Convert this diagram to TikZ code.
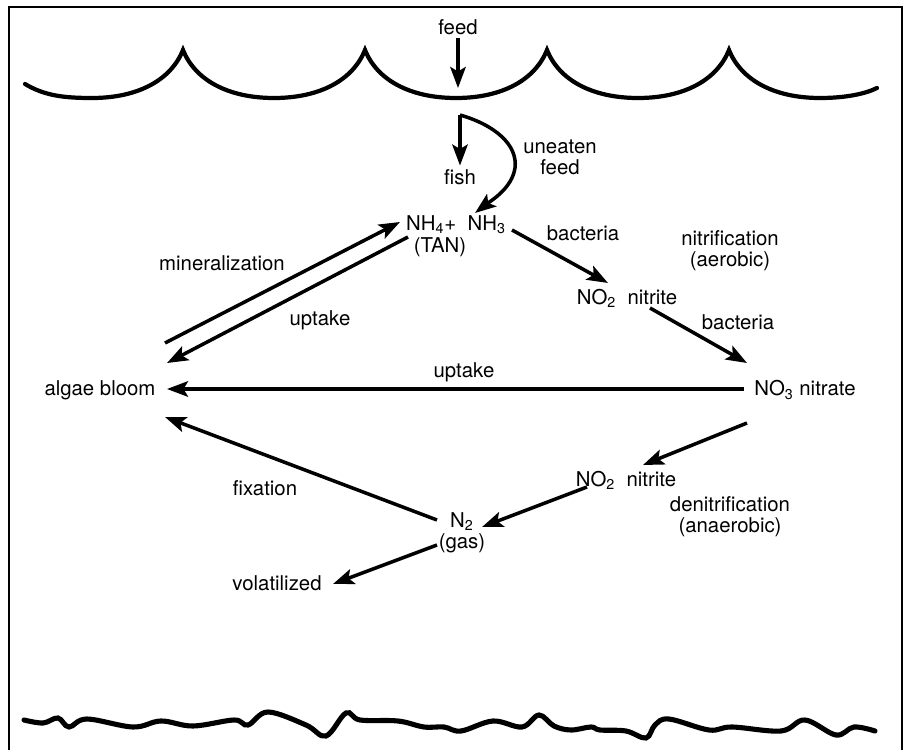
\documentclass[tikz,border=0pt]{standalone}
\usepackage{fontspec}
\setmainfont{TeX Gyre Heros}
\usetikzlibrary{arrows.meta}

\tikzset{
  lbl/.style={inner sep=2pt, align=center, font=\fontsize{11.6}{12}\selectfont},
  arr/.style={line width=2pt, -{Stealth[length=0.42cm,width=0.31cm,inset=0.09cm]}},
  wave/.style={line width=2.4pt, line cap=round},
}

\begin{document}
\begin{tikzpicture}[x=0.02cm, y=-0.02cm]
\useasboundingbox (0,0) rectangle (904,750);

% frame, open at the bottom
\draw[line width=1.6pt] (9,750) -- (9,7) -- (902,7) -- (902,750);

% water surface
\draw[wave] (25,84) .. controls (45,96) and (65,98) .. (92,98)
  \foreach \c in {183,365,547,729} {
    .. controls ({\c-45},98) and ({\c-12},80) .. (\c,50)
    .. controls ({\c+12},80) and ({\c+45},98) .. ({\c+91},98)}
  .. controls (845,98) and (865,94) .. (877,88);

% pond bottom
\draw[line width=2.9pt, line cap=round] plot[smooth, tension=0.6] coordinates {
  (24,720) (43,723) (58,718) (69,727) (87,719) (133,727) (161,721) (193,726)
  (234,720) (248,725) (268,712) (306,725) (326,736) (346,713) (360,720)
  (398,721) (424,727) (444,727) (461,731) (493,721) (522,727) (539,715)
  (554,726) (571,730) (591,727) (600,730) (626,731) (646,738) (655,725)
  (669,719) (709,730) (732,727) (781,731) (805,720) (836,735) (854,727) (875,731)};

% texts
\node[lbl] (feed) at (458,27) {feed};
\node[lbl] (fish) at (460,177) {fish};
\node[lbl] (uneaten) at (560,157) {uneaten\\feed};
\node[lbl] (tan) at (456,225) {NH\textsubscript{4}+\ \ NH\textsubscript{3}};
\node[lbl] (tanlbl) at (440,247) {(TAN)};
\node[lbl] (mineral) at (222,263) {mineralization};
\node[lbl] (uptakea) at (320,320) {uptake};
\node[lbl] (bacta) at (583,233) {bacteria};
\node[lbl] (nitrif) at (730,251) {nitrification\\(aerobic)};
\node[lbl] (nitritea) at (627,298) {NO\textsubscript{2}\ \ nitrite};
\node[lbl] (bactb) at (738,322) {bacteria};
\node[lbl] (algae) at (100,390) {algae bloom};
\node[lbl] (uptakeb) at (464,372) {uptake};
\node[lbl] (nitrate) at (805,390) {NO\textsubscript{3} nitrate};
\node[lbl] (nitriteb) at (626,480) {NO\textsubscript{2}\ \ nitrite};
\node[lbl] (denitrif) at (730,517) {denitrification\\(anaerobic)};
\node[lbl] (ntwo) at (462,533) {N\textsubscript{2}\\(gas)};
\node[lbl] (fixation) at (265,488) {fixation};
\node[lbl] (volat) at (277,583) {volatilized};

% arrow ends
\coordinate (surface) at (458,88);
\coordinate (split) at (460,115);
\coordinate (tan-in) at (475,213);
\coordinate (min-a) at (165,343);
\coordinate (min-b) at (400,222);
\coordinate (up-a) at (408,237);
\coordinate (up-b) at (167,363);
\coordinate (bac-a) at (512,230);
\coordinate (bac-b) at (608,283);
\coordinate (bac-c) at (650,308);
\coordinate (bac-d) at (747,363);
\coordinate (upl-a) at (744,389);
\coordinate (upl-b) at (167,389);
\coordinate (den-a) at (747,423);
\coordinate (den-b) at (643,465);
\coordinate (den-c) at (587,487);
\coordinate (den-d) at (482,527);
\coordinate (fix-a) at (437,520);
\coordinate (fix-b) at (165,417);
\coordinate (vol-a) at (437,545);
\coordinate (vol-b) at (333,584);

% connectors
\draw[arr] (feed) -- (surface);
\draw[arr] (split) -- (fish);
\draw[arr] (split) .. controls (495,125) and (518,145) .. (515,168)
  .. controls (512,188) and (492,200) .. (tan-in);
\draw[arr] (min-a) -- (min-b);
\draw[arr] (up-a) -- (up-b);
\draw[arr] (bac-a) -- (bac-b);
\draw[arr] (bac-c) -- (bac-d);
\draw[arr] (upl-a) -- (upl-b);
\draw[arr] (den-a) -- (den-b);
\draw[arr] (den-c) -- (den-d);
\draw[arr] (fix-a) -- (fix-b);
\draw[arr] (vol-a) -- (vol-b);
\end{tikzpicture}
\end{document}
